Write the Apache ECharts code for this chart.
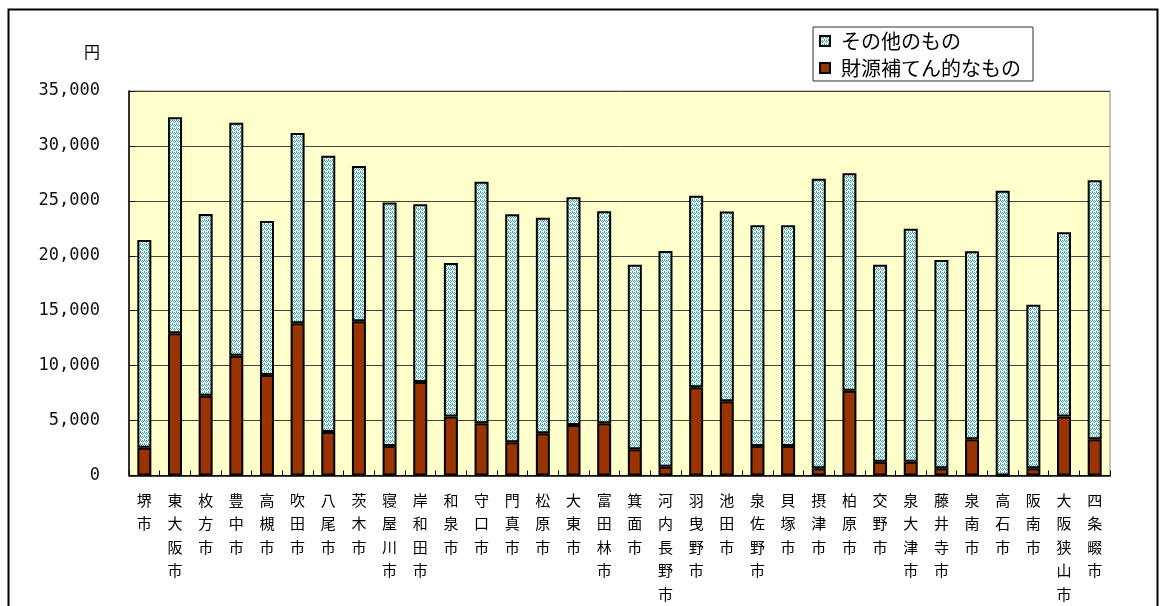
<!DOCTYPE html>
<html>
<head>
<meta charset="utf-8">
<script src="https://cdn.jsdelivr.net/npm/echarts@6/dist/echarts.min.js"></script>
<style>
  html, body { margin: 0; padding: 0; background: #fff; }
  #chart { width: 1166px; height: 606px; }
</style>
</head>
<body>
<div id="chart"></div>
<script>
// Municipalities (Osaka prefecture)
const cities = ['堺市','東大阪市','枚方市','豊中市','高槻市','吹田市','八尾市','茨木市','寝屋川市','岸和田市','和泉市',
  '守口市','門真市','松原市','大東市','富田林市','箕面市','河内長野市','羽曳野市','池田市','泉佐野市','貝塚市',
  '摂津市','柏原市','交野市','泉大津市','藤井寺市','泉南市','高石市','阪南市','大阪狭山市','四条畷市'];

// 財源補てん的なもの (円)
const compensation = [2530,12940,7270,10910,9150,13850,3960,14030,2690,8510,5360,
  4750,3020,3840,4600,4750,2390,800,8030,6750,2690,2690,
  650,7720,1260,1260,650,3290,0,650,5360,3290];

// その他のもの (円)
const others = [18910,19660,16530,21210,14020,17330,25150,14140,22150,16170,13980,
  22000,20760,19630,20720,19300,16800,19640,17440,17270,20080,20080,
  26370,19790,17930,21210,18970,17120,25930,14900,16780,23580];

const yTicks = { min: 0, max: 35000, interval: 5000 };
const seriesNames = ['その他のもの', '財源補てん的なもの'];

// Teal zigzag fill for the "other" segment
function makePattern() {
  const c = document.createElement('canvas');
  c.width = 4; c.height = 4;
  const g = c.getContext('2d');
  g.fillStyle = '#F2FBFB';
  g.fillRect(0, 0, 4, 4);
  g.fillStyle = '#3FA3A3';
  [[0,0],[1,1],[3,1],[2,2],[0,3],[2,0]].forEach(([x, y]) => g.fillRect(x, y, 1, 1));
  return c;
}

const chart = echarts.init(document.getElementById('chart'));
const cjk = '"Noto Sans CJK JP", "Noto Sans", sans-serif';

chart.setOption({
  animation: false,
  backgroundColor: '#fff',
  graphic: [{
    type: 'rect',
    shape: { x: 8.5, y: 9.5, width: 1149, height: 640 },
    style: { fill: 'none', stroke: '#000', lineWidth: 2 },
    silent: true
  }],
  legend: {
    data: seriesNames,
    orient: 'vertical',
    left: 813,
    top: 27,
    itemWidth: 10,
    itemHeight: 10,
    itemGap: 7,
    padding: [4, 12, 3, 6],
    backgroundColor: '#fff',
    borderColor: '#333',
    borderWidth: 1,
    icon: 'rect',
    textStyle: { fontFamily: cjk, fontSize: 20, color: '#000', padding: [0, 0, 0, 6] }
  },
  grid: {
    left: 129, right: 56, top: 91, bottom: 130,
    show: true,
    backgroundColor: '#FFFFCC',
    borderColor: '#888',
    borderWidth: 1
  },
  xAxis: {
    type: 'category',
    data: cities,
    axisLine: { lineStyle: { color: '#000', width: 1.5 } },
    axisTick: { show: true, inside: true, length: 5, lineStyle: { color: '#000' } },
    axisLabel: {
      interval: 0,
      margin: 13,
      fontFamily: cjk,
      fontSize: 15,
      lineHeight: 23.5,
      color: '#000',
      verticalAlign: 'top',
      formatter: v => v.split('').join('\n')
    }
  },
  yAxis: {
    type: 'value',
    min: yTicks.min,
    max: yTicks.max,
    interval: yTicks.interval,
    name: '円',
    nameLocation: 'end',
    nameGap: 31,
    nameTextStyle: { fontFamily: cjk, fontSize: 16, color: '#000', align: 'right', padding: [0, 29, 0, 0] },
    axisLine: { show: true, lineStyle: { color: '#000', width: 1.5 } },
    axisTick: { show: true, inside: true, length: 6, lineStyle: { color: '#000' } },
    splitLine: { lineStyle: { color: '#444', width: 1 } },
    axisLabel: {
      margin: 29,
      fontFamily: '"DejaVu Sans Mono", monospace',
      fontSize: 17,
      color: '#111',
      formatter: v => v.toString().replace(/\B(?=(\d{3})+(?!\d))/g, ',')
    }
  },
  series: [
    {
      name: seriesNames[1],
      type: 'bar',
      stack: 'total',
      barWidth: 14,
      data: compensation,
      itemStyle: { color: '#993300', borderColor: '#000', borderWidth: 2 }
    },
    {
      name: seriesNames[0],
      type: 'bar',
      stack: 'total',
      barWidth: 14,
      data: others,
      itemStyle: {
        color: { image: makePattern(), repeat: 'repeat' },
        borderColor: '#000',
        borderWidth: 2
      }
    }
  ]
});
</script>
</body>
</html>
